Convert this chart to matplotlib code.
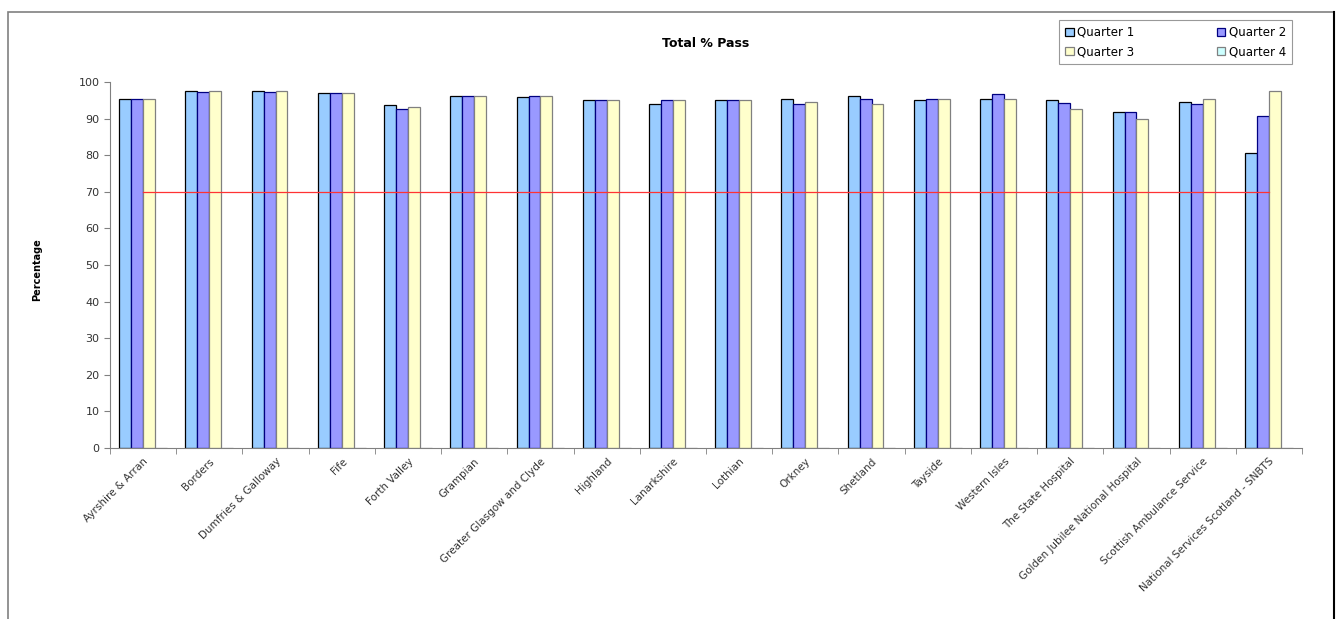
import numpy as np
import matplotlib
matplotlib.use("Agg")
import matplotlib.pyplot as plt
from matplotlib.patches import Rectangle

boards = ["Ayrshire & Arran", "Borders", "Dumfries & Galloway", "Fife", "Forth Valley",
          "Grampian", "Greater Glasgow and Clyde", "Highland", "Lanarkshire", "Lothian",
          "Orkney", "Shetland", "Tayside", "Western Isles", "The State Hospital",
          "Golden Jubilee National Hospital", "Scottish Ambulance Service",
          "National Services Scotland - SNBTS"]
q1 = [95.3, 97.5, 97.6, 97.1, 93.6, 96.3, 95.9, 95.0, 94.0, 95.0, 95.3, 96.2, 95.0, 95.4, 95.0, 91.7, 94.6, 80.6]
q2 = [95.3, 97.2, 97.2, 97.1, 92.7, 96.3, 96.3, 95.0, 95.0, 95.0, 93.9, 95.4, 95.3, 96.8, 94.2, 91.7, 94.1, 90.6]
q3 = [95.3, 97.5, 97.6, 97.1, 93.1, 96.3, 96.3, 95.0, 95.0, 95.0, 94.4, 94.0, 95.3, 95.4, 92.7, 89.9, 95.4, 97.5]
q4 = [0] * 18
target = [70] * 18

series = [("Quarter 1", q1, "#99CCFF", "black"),
          ("Quarter 2", q2, "#9999FF", "#000080"),
          ("Quarter 3", q3, "#FFFFCC", "#808080"),
          ("Quarter 4", q4, "#CCFFFF", "#808080")]

fig = plt.figure(figsize=(13.38, 6.19), dpi=100)
ax = fig.add_axes([110 / 1338, 1 - 448 / 619, 1192 / 1338, 366 / 619])

x = np.arange(len(boards))
w = 0.18
bars = []
for i, (name, vals, fc, ec) in enumerate(series):
    b = ax.bar(x + (i - 1.5) * w, vals, w, color=fc, edgecolor=ec, linewidth=0.9, label=name)
    bars.append(b)

ax.plot(x, target, color="#FF3333", linewidth=0.9)

ax.set_xlim(-0.5, len(boards) - 0.5)
ax.set_ylim(0, 100)
ax.set_yticks(range(0, 101, 10))
ax.set_xticks(x)
ax.set_xticklabels(boards, rotation=45, ha="right", va="top", rotation_mode="anchor",
                   fontsize=7.5, color="#333333")
ax.set_xticks(np.arange(-0.5, len(boards), 1), minor=True)
ax.tick_params(axis="x", which="major", length=0, pad=6)
ax.tick_params(axis="x", which="minor", length=4, color="#808080")
ax.tick_params(axis="y", length=4, color="#808080", labelsize=8, labelcolor="#333333")
for s in ["top", "right"]:
    ax.spines[s].set_visible(False)
ax.spines["left"].set_color("#808080")
ax.spines["bottom"].set_color("#808080")

ax.set_title("Total % Pass", fontsize=9, fontweight="bold", pad=25)
fig.text(37 / 1338, 1 - 270 / 619, "Percentage", rotation=90, fontsize=7,
         fontweight="bold", ha="center", va="center")

# row order: Q1 Q2 / Q3 Q4
order = [0, 2, 1, 3]
leg = ax.legend([bars[i] for i in order], [series[i][0] for i in order],
                ncol=2, loc="upper right", bbox_to_anchor=(1292 / 1338, 1 - 20 / 619),
                bbox_transform=fig.transFigure, fontsize=8.5, frameon=True, fancybox=False,
                handlelength=0.7, handleheight=0.7, handletextpad=0.3, columnspacing=7.0,
                borderpad=0.5, labelspacing=0.55, borderaxespad=0)
leg.get_frame().set_edgecolor("#808080")
leg.get_frame().set_linewidth(0.8)

fig.patches.append(Rectangle((8 / 1338, -0.05), 1326 / 1338, 1.05 - 12 / 619,
                             transform=fig.transFigure, fill=False,
                             edgecolor="#808080", linewidth=1.2))
fig.lines.append(plt.Line2D([1334 / 1338, 1334 / 1338], [0, 1 - 12 / 619],
                            transform=fig.transFigure, color="black", linewidth=1.5))

fig.savefig("out.png", dpi=100)
